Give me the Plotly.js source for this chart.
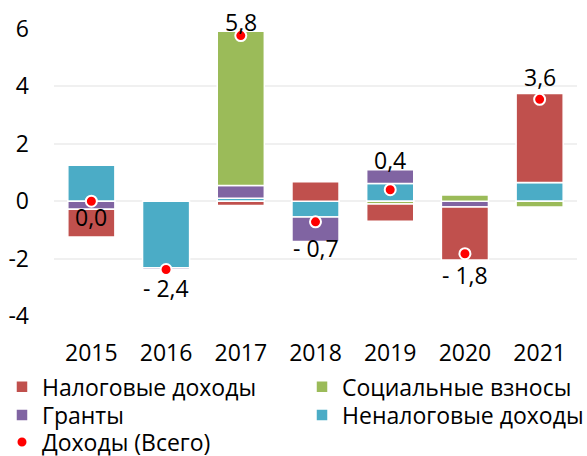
<!DOCTYPE html>
<html>
<head>
<meta charset="utf-8">
<script src="https://cdn.plot.ly/plotly-3.0.1.min.js"></script>
<style>html,body{margin:0;padding:0;background:#fff;}#chart{width:587px;height:456px;}</style>
</head>
<body>
<div id="chart"></div>
<script>
var years = ["2015", "2016", "2017", "2018", "2019", "2020", "2021"];
var taxRevenue = [-0.97, 0.0, -0.15, 0.68, -0.6, -1.85, 3.1];
var socialContrib = [0.0, 0.0, 5.37, 0.0, -0.1, 0.22, -0.2];
var grants = [-0.28, -0.06, 0.45, -0.85, 0.48, -0.2, 0.0];
var nonTaxRevenue = [1.25, -2.32, 0.1, -0.55, 0.62, 0.0, 0.65];
var totalRevenue = [0.0, -2.38, 5.77, -0.72, 0.4, -1.83, 3.55];
var totalLabels = ["0,0", "- 2,4", "5,8", "- 0,7", "0,4", "- 1,8", "3,6"];

// label placement offsets (pixels, styling only)
var labelShiftPx = [-16, -18, 14, -26, 30, -21, 22];

var FONT = "Open Sans, sans-serif";
var FS = 23;

function barTrace(name, vals, color, legendId) {
  return {
    type: "bar", name: name, x: years, y: vals,
    marker: {color: color, line: {color: "#ffffff", width: 1.5}},
    legend: legendId, hoverinfo: "skip"
  };
}

var data = [
  barTrace("Неналоговые доходы", nonTaxRevenue, "#4BACC6", "legend4"),
  barTrace("Гранты", grants, "#8064A2", "legend3"),
  barTrace("Социальные взносы", socialContrib, "#9BBB59", "legend2"),
  barTrace("Налоговые доходы", taxRevenue, "#C0504D", "legend"),
  {
    type: "scatter", mode: "markers", name: "Доходы (Всего)",
    x: years, y: totalRevenue,
    marker: {color: "#FF0000", size: 11, line: {color: "#ffffff", width: 2}},
    legend: "legend5", cliponaxis: false, hoverinfo: "skip"
  }
];

// category index i is the position of years[i] on the category axis
var annotations = years.map(function (yr, i) {
  return {
    x: i, y: totalRevenue[i], xref: "x", yref: "y",
    text: totalLabels[i], showarrow: false,
    xanchor: "center", yanchor: "middle",
    yshift: labelShiftPx[i],
    font: {family: FONT, size: FS, color: "#000000"}
  };
});

function legendAt(x, y) {
  return {
    orientation: "v", x: x, xref: "container", y: y, yref: "container",
    xanchor: "left", yanchor: "middle",
    font: {family: FONT, size: FS, color: "#000000"},
    bgcolor: "rgba(0,0,0,0)", borderwidth: 0, itemclick: false
  };
}

var layout = {
  width: 587, height: 456,
  margin: {l: 54, r: 10, t: 29, b: 140, autoexpand: false},
  paper_bgcolor: "#ffffff", plot_bgcolor: "#ffffff",
  font: {family: FONT, size: FS, color: "#000000"},
  barmode: "relative",
  bargap: 0.37,
  showlegend: true,
  annotations: annotations,
  xaxis: {
    type: "category", categoryorder: "array", categoryarray: years,
    range: [-0.5, years.length - 0.5],
    showgrid: false, zeroline: false, showline: false,
    ticks: "", ticklabelstandoff: 21, automargin: false,
    tickfont: {family: FONT, size: FS, color: "#000000"}
  },
  yaxis: {
    range: [-4, 6], tickvals: [-4, -2, 0, 2, 4, 6], ticktext: ["-4", "-2", "0", "2", "4", "6"],
    showgrid: true, gridcolor: "#F0F0F0", gridwidth: 2,
    zeroline: true, zerolinecolor: "#F0F0F0", zerolinewidth: 2,
    showline: false, ticks: "", ticklabelstandoff: 24, automargin: false,
    tickfont: {family: FONT, size: FS, color: "#000000"}
  },
  legend: legendAt(0.0034, 1 - 386.7 / 456),
  legend2: legendAt(0.5145, 1 - 386.7 / 456),
  legend3: legendAt(0.0034, 1 - 415 / 456),
  legend4: legendAt(0.5145, 1 - 415 / 456),
  legend5: legendAt(0.0034, 1 - 442 / 456)
};

Plotly.newPlot("chart", data, layout, {displayModeBar: false, staticPlot: true});
</script>
</body>
</html>
